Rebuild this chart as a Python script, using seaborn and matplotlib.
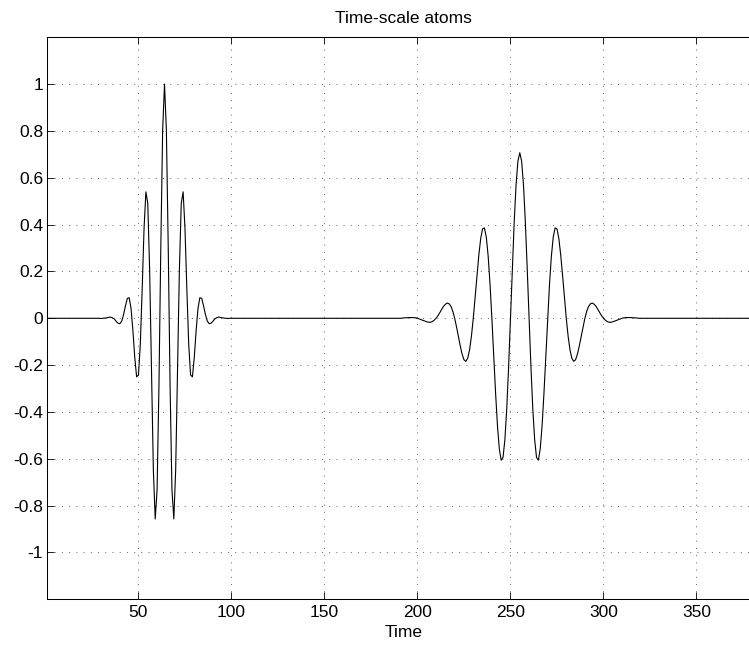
import numpy as np
import pandas as pd
import matplotlib
matplotlib.use("Agg")
import matplotlib.pyplot as plt
import seaborn as sns

# Values: the signal is 0 outside the two atoms
baseline_times = [1, 29, 99, 188, 322, 384]

# Atom 1: scale 1, centred at t=64, samples for t = 30 .. 98
atom1_start = 30
atom1_values = [
    -0.001, 0.000, 0.001, 0.002, 0.004, 0.005, 0.002, -0.003, -0.013, -0.021,
    -0.023, -0.012, 0.016, 0.053, 0.085, 0.088, 0.042, -0.052, -0.167, -0.250,
    -0.242, -0.109, 0.127, 0.384, 0.540, 0.491, 0.208, -0.229, -0.648, -0.857,
    -0.733, -0.292, 0.301, 0.804, 1.000, 0.804, 0.301, -0.292, -0.733, -0.857,
    -0.648, -0.229, 0.208, 0.491, 0.540, 0.384, 0.127, -0.109, -0.242, -0.250,
    -0.167, -0.052, 0.042, 0.088, 0.085, 0.053, 0.016, -0.012, -0.023, -0.021,
    -0.013, -0.003, 0.002, 0.005, 0.004, 0.002, 0.001, 0.000, -0.001,
]

# Atom 2: scale 2, centred at t=255, samples for t = 189 .. 321
atom2_start = 189
atom2_values = [
    -0.000, 0.000, 0.000, 0.001, 0.002, 0.002, 0.003, 0.003, 0.003, 0.003,
    0.002, 0.000, -0.003, -0.006, -0.009, -0.012, -0.015, -0.017, -0.017, -0.014,
    -0.008, 0.000, 0.011, 0.024, 0.038, 0.051, 0.060, 0.065, 0.062, 0.051,
    0.030, 0.000, -0.037, -0.078, -0.118, -0.153, -0.177, -0.184, -0.171, -0.135,
    -0.077, 0.000, 0.090, 0.184, 0.271, 0.341, 0.382, 0.386, 0.347, 0.266,
    0.147, 0.000, -0.162, -0.320, -0.458, -0.558, -0.606, -0.594, -0.518, -0.386,
    -0.207, 0.000, 0.213, 0.410, 0.569, 0.671, 0.707, 0.671, 0.569, 0.410,
    0.213, 0.000, -0.207, -0.386, -0.518, -0.594, -0.606, -0.558, -0.458, -0.320,
    -0.162, 0.000, 0.147, 0.266, 0.347, 0.386, 0.382, 0.341, 0.271, 0.184,
    0.090, 0.000, -0.077, -0.135, -0.171, -0.184, -0.177, -0.153, -0.118, -0.078,
    -0.037, 0.000, 0.030, 0.051, 0.062, 0.065, 0.060, 0.051, 0.038, 0.024,
    0.011, 0.000, -0.008, -0.014, -0.017, -0.017, -0.015, -0.012, -0.009, -0.006,
    -0.003, 0.000, 0.002, 0.003, 0.003, 0.003, 0.003, 0.002, 0.002, 0.001,
    0.000, 0.000, -0.000,
]

x_ticks = [50, 100, 150, 200, 250, 300, 350]
y_ticks = [-1, -0.8, -0.6, -0.4, -0.2, 0, 0.2, 0.4, 0.6, 0.8, 1]
y_tick_labels = ["-1", "-0.8", "-0.6", "-0.4", "-0.2", "0",
                 "0.2", "0.4", "0.6", "0.8", "1"]

# Build one table for the whole trace
frames = [
    pd.DataFrame({"time": baseline_times, "amplitude": 0.0}),
    pd.DataFrame({"time": atom1_start + np.arange(len(atom1_values)),
                  "amplitude": atom1_values}),
    pd.DataFrame({"time": atom2_start + np.arange(len(atom2_values)),
                  "amplitude": atom2_values}),
]
df = pd.concat(frames).sort_values("time").reset_index(drop=True)

# Style
sns.set_style("ticks")
plt.rcParams["font.family"] = ["Liberation Sans", "DejaVu Sans"]
plt.rcParams["lines.scale_dashes"] = False
plt.rcParams["text.color"] = "black"
plt.rcParams["axes.labelcolor"] = "black"

fig = plt.figure(figsize=(7.49, 6.46), dpi=100)
ax = fig.add_axes([0.0632, 0.0723, 0.9511, 0.8700])

sns.lineplot(data=df, x="time", y="amplitude", color="black",
             linewidth=0.8, estimator=None, ax=ax)

ax.set_xlim(1, 384)
ax.set_ylim(-1.2, 1.2)
ax.set_xticks(x_ticks)
ax.set_xticklabels([str(t) for t in x_ticks])
ax.set_yticks(y_ticks)
ax.set_yticklabels(y_tick_labels)

ax.grid(True, color="0.3", linestyle=(0, (0.7, 4.5)), linewidth=0.6)
for side in ax.spines:
    ax.spines[side].set_visible(True)
    ax.spines[side].set_color("black")
    ax.spines[side].set_linewidth(0.75)
ax.tick_params(direction="in", length=5, width=0.6, color="black",
               top=True, right=True, labelsize=12.5, labelcolor="black")
ax.tick_params(axis="x", pad=4)
ax.tick_params(axis="y", pad=3)

ax.set_title("Time-scale atoms", fontsize=12.5, pad=10, color="black")
ax.set_xlabel("Time", fontsize=12.5, labelpad=4, color="black")
ax.set_ylabel("")

fig.savefig("out.png", dpi=100)
